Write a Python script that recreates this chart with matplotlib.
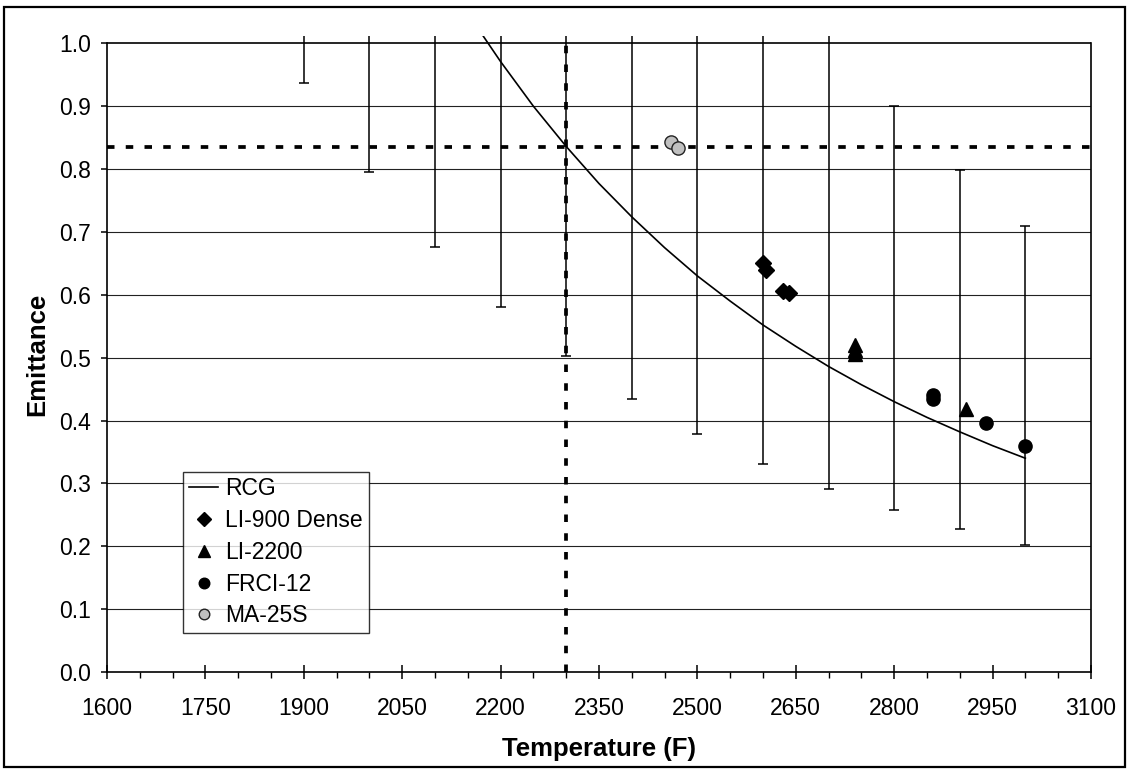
import numpy as np
import matplotlib
matplotlib.use("Agg")
import matplotlib.pyplot as plt
from matplotlib.patches import Rectangle

plt.rcParams['font.family'] = ['Liberation Sans', 'DejaVu Sans']

# RCG fit curve
rcg_t = [2170, 2200, 2250, 2300, 2350, 2400, 2450, 2500, 2550, 2600,
         2650, 2700, 2750, 2800, 2850, 2900, 2950, 3000]
rcg_e = [1.017, 0.971, 0.900, 0.836, 0.777, 0.724, 0.675, 0.630, 0.590, 0.552,
         0.518, 0.486, 0.457, 0.430, 0.405, 0.382, 0.360, 0.340]

# error bar ranges
err_t = [1900, 2000, 2100, 2200, 2300, 2400, 2500, 2600, 2700, 2800, 2900, 3000]
err_lo = [0.937, 0.795, 0.676, 0.580, 0.502, 0.434, 0.378, 0.331, 0.291, 0.257, 0.227, 0.202]
err_hi = [2.50, 2.20, 1.90, 2.00, 1.74, 1.51, 1.31, 1.15, 1.05, 0.901, 0.798, 0.709]

# measured points
li900_t = [2600, 2605, 2630, 2640]
li900_e = [0.650, 0.639, 0.606, 0.603]
li2200_t = [2740, 2740, 2740, 2910]
li2200_e = [0.520, 0.512, 0.506, 0.418]
frci_t = [2860, 2860, 2940, 3000]
frci_e = [0.440, 0.434, 0.396, 0.360]
ma25_t = [2460, 2470]
ma25_e = [0.8435, 0.833]

ref_t = 2300
ref_e = 0.8355

fig = plt.figure(figsize=(11.27, 7.74), dpi=100)
ax = fig.add_axes([0.0949, 0.1318, 0.968 - 0.0949, 0.953 - 0.1318])

ax.set_xlim(1600, 3100)
ax.set_ylim(0, 1.011)

for g in np.arange(0.1, 1.0, 0.1):
    ax.axhline(g, color='#222222', lw=0.8, zorder=1)
ax.axhline(1.0, color='black', lw=1.2, zorder=1)

lo = np.array(err_lo)
hi = np.array(err_hi)
ax.errorbar(err_t, lo, yerr=[np.zeros_like(lo), hi - lo], fmt='none',
            ecolor='black', elinewidth=1.1, capsize=3.6, capthick=1.1, zorder=2)

ax.plot([1600, 3100], [ref_e, ref_e], color='black', lw=2.7,
        linestyle=(0, (2.0, 3.0)), zorder=3)
ax.plot([ref_t, ref_t], [0, 1.0], color='black', lw=2.7,
        linestyle=(0, (2.0, 3.0)), zorder=3)

ax.plot(rcg_t, rcg_e, color='black', lw=1.2, label='RCG', zorder=4)
ax.plot(li900_t, li900_e, 'D', color='black', ms=8.5, ls='none', label='LI-900 Dense', zorder=5)
ax.plot(li2200_t, li2200_e, '^', color='black', ms=10, ls='none', label='LI-2200', zorder=5)
ax.plot(frci_t, frci_e, 'o', color='black', ms=9.5, ls='none', label='FRCI-12', zorder=5)
ax.plot(ma25_t, ma25_e, 'o', mfc='#c0c0c0', mec='#222222', mew=1.0, ms=9.5, ls='none',
        label='MA-25S', zorder=5)

ax.spines['top'].set_visible(False)
ax.spines['right'].set_bounds(0, 1.0)
ax.spines['left'].set_bounds(0, 1.0)
for s in ['left', 'bottom', 'right']:
    ax.spines[s].set_linewidth(1.2)

ax.set_xticks(np.arange(1600, 3101, 150))
ax.set_xticks(np.arange(1600, 3101, 50), minor=True)
ax.set_yticks(np.arange(0, 1.01, 0.1))
ax.set_yticklabels(['%.1f' % v for v in np.arange(0, 1.01, 0.1)])
ax.tick_params(axis='x', which='major', direction='inout', length=10, width=1.1,
               labelsize=16.5, pad=13)
ax.tick_params(axis='x', which='minor', direction='out', length=4.3, width=1.0)
ax.tick_params(axis='y', direction='out', length=4.5, width=1.1, labelsize=16.5, pad=7)

ax.set_xlabel('Temperature (F)', fontsize=18.5, fontweight='bold', labelpad=12)
ax.set_ylabel('Emittance', fontsize=18.5, fontweight='bold', labelpad=7)

leg = ax.legend(loc='lower left', bbox_to_anchor=(0.0772, 0.0614), borderaxespad=0,
                fontsize=16.5, frameon=True, fancybox=False, edgecolor='black',
                handlelength=1.3, handletextpad=0.3, labelspacing=0.38,
                borderpad=0.25, numpoints=1, markerscale=0.8)
leg.get_frame().set_linewidth(1.0)
leg.set_zorder(10)

fig.patches.append(Rectangle((4 / 1127, 7 / 774), 1121 / 1127, 760 / 774,
                             transform=fig.transFigure, fill=False,
                             edgecolor='black', lw=1.6))

fig.savefig('out.png', dpi=100)
